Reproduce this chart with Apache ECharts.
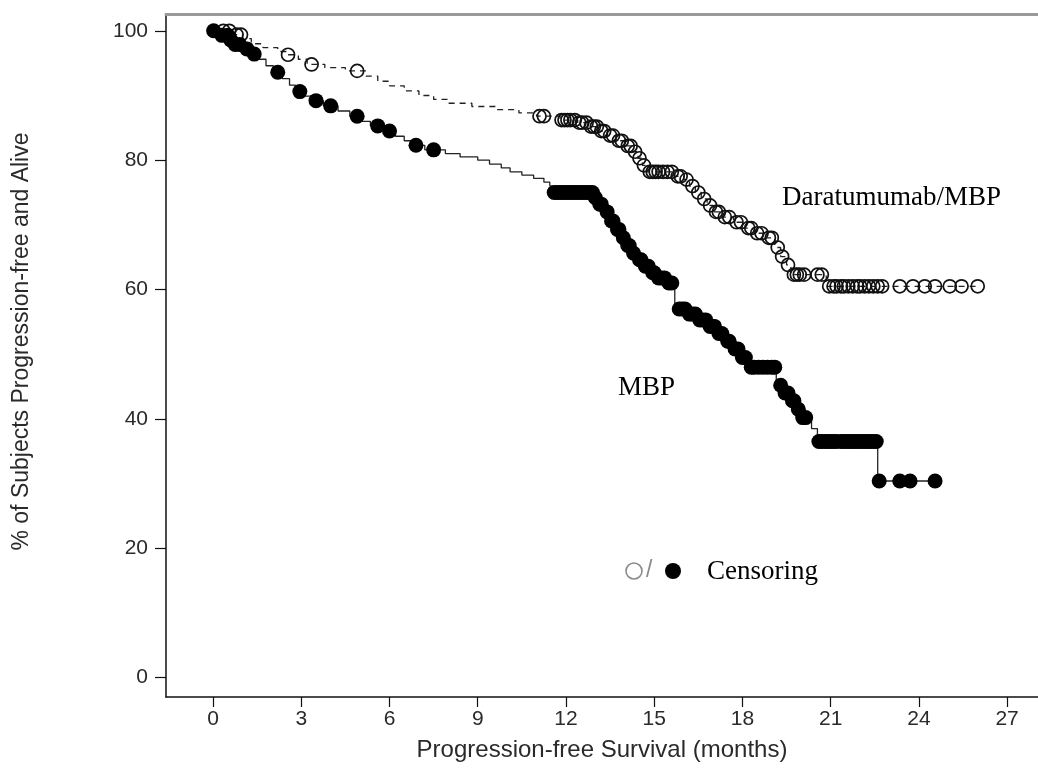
<!DOCTYPE html>
<html>
<head>
<meta charset="utf-8">
<script src="https://cdn.jsdelivr.net/npm/echarts@6/dist/echarts.min.js"></script>
<style>html,body{margin:0;padding:0;background:#fff}#chart{width:1038px;height:783px}</style>
</head>
<body>
<div id="chart"></div>
<script>
// ---- Data ----
const xTicks = [0, 3, 6, 9, 12, 15, 18, 21, 24, 27];
const yTicks = [0, 20, 40, 60, 80, 100];

// MBP arm: step times (months) and survival (%) after each step
const mbpTimes = [0, 0.3, 0.55, 0.75, 1.0, 1.25, 1.5, 1.8, 2.05, 2.35, 2.6, 2.8, 3.05, 3.35, 3.75, 4.25, 4.65, 5.05, 5.35, 5.8, 6.2, 6.5, 6.8, 7.2, 7.9, 8.4, 9.0, 9.4, 9.8, 10.1, 10.5, 10.9, 11.25, 11.45, 11.55, 12.95, 13.1, 13.3, 13.5, 13.65, 13.85, 14.0, 14.2, 14.4, 14.6, 14.85, 15.1, 15.4, 15.7, 16.1, 16.45, 16.8, 17.1, 17.4, 17.65, 17.9, 18.2, 19.15, 19.4, 19.6, 19.8, 20.0, 20.35, 20.55, 22.6, 24.55];
const mbpSurv  = [100, 99.3, 98.6, 97.9, 97.2, 96.4, 95.6, 94.6, 93.6, 92.6, 91.6, 90.6, 89.9, 89.2, 88.4, 87.6, 86.8, 86.0, 85.3, 84.5, 83.7, 83.0, 82.3, 81.6, 81.0, 80.5, 80.0, 79.4, 78.8, 78.2, 77.7, 77.2, 76.6, 76.0, 75.0, 74.2, 73.2, 72.0, 70.6, 69.3, 68.0, 66.8, 65.6, 64.6, 63.6, 62.6, 61.8, 61.0, 57.0, 56.2, 55.3, 54.3, 53.2, 52.0, 50.8, 49.5, 48.0, 45.2, 44.0, 42.8, 41.5, 40.2, 38.5, 36.5, 30.4, 30.4];
const mbpCensor = [0.02, 0.3, 0.5, 0.6, 0.75, 0.9, 1.15, 1.4, 2.2, 2.95, 3.5, 4.0, 4.9, 5.6, 6.0, 6.9, 7.5,
  11.6, 11.7, 11.8, 11.9, 12.0, 12.1, 12.2, 12.3, 12.4, 12.5, 12.6, 12.7, 12.8, 12.9,
  13.0, 13.15, 13.2, 13.4, 13.55, 13.6, 13.75, 13.8, 13.95, 14.1, 14.15, 14.3, 14.5, 14.55, 14.7, 14.8, 14.95, 15.0, 15.15, 15.25, 15.35, 15.5, 15.6,
  15.85, 15.95, 16.05, 16.2, 16.3, 16.4, 16.55, 16.65, 16.75, 16.9, 17.0, 17.05, 17.2, 17.3, 17.5, 17.55, 17.75, 17.85, 18.0, 18.1, 18.3, 18.4, 18.55, 18.7, 18.85, 19.0, 19.1,
  19.3, 19.45, 19.55, 19.7, 19.75, 19.9, 20.05, 20.15,
  20.6, 20.7, 20.8, 20.9, 21.0, 21.1, 21.2, 21.35, 21.45, 21.55, 21.65, 21.75, 21.85, 21.95, 22.05, 22.15, 22.25, 22.35, 22.45, 22.55,
  22.65, 23.35, 23.7, 24.55];

// Daratumumab/MBP arm
const daraTimes = [0, 0.7, 1.0, 1.3, 1.7, 2.2, 2.5, 2.9, 3.2, 3.8, 4.5, 5.2, 5.6, 6.0, 6.5, 7.0, 7.5, 8.0, 8.8, 9.6, 10.4, 11.0, 11.8, 12.4, 12.8, 13.1, 13.4, 13.7, 14.0, 14.25, 14.45, 14.6, 14.75, 15.7, 16.0, 16.2, 16.4, 16.6, 16.8, 17.0, 17.3, 17.7, 18.1, 18.4, 18.8, 19.1, 19.3, 19.5, 19.65, 20.85, 26.0];
const daraSurv  = [100, 99.4, 98.8, 98.0, 97.4, 96.8, 96.3, 95.6, 94.8, 94.3, 93.8, 93.0, 92.2, 91.5, 90.7, 90.0, 89.4, 88.8, 88.3, 87.8, 87.3, 86.8, 86.2, 85.8, 85.2, 84.5, 83.8, 83.0, 82.2, 81.3, 80.3, 79.2, 78.2, 77.5, 77.0, 76.0, 75.0, 74.0, 73.0, 72.0, 71.2, 70.4, 69.5, 68.7, 68.0, 66.5, 65.1, 63.8, 62.3, 60.5, 60.5];
const daraCensor = [0.35, 0.55, 0.8, 0.95, 2.55, 3.35, 4.9, 11.1, 11.25,
  11.85, 11.95, 12.05, 12.15, 12.3, 12.45, 12.55, 12.7, 12.85, 12.95, 13.05, 13.2, 13.3, 13.5, 13.6, 13.8, 13.9, 14.1, 14.2, 14.35, 14.5, 14.65, 14.85, 14.95, 15.05, 15.15, 15.3, 15.45, 15.6,
  15.8, 15.9, 16.1, 16.3, 16.5, 16.7, 16.9, 17.1, 17.2, 17.4, 17.55, 17.8, 17.95, 18.2, 18.3, 18.5, 18.65, 18.9, 19.0, 19.2, 19.35, 19.55,
  19.75, 19.85, 19.95, 20.1, 20.55, 20.7,
  20.95, 21.1, 21.2, 21.35, 21.45, 21.6, 21.75, 21.9, 22.0, 22.15, 22.3, 22.45, 22.6, 22.75,
  23.35, 23.8, 24.2, 24.55, 25.05, 25.45, 26.0];

// ---- helpers ----
function stepPairs(times, surv) { return times.map((t, i) => [t, surv[i]]); }
function survAt(times, surv, t) {
  let v = surv[0];
  for (let i = 0; i < times.length; i++) { if (times[i] <= t + 1e-9) v = surv[i]; else break; }
  return v;
}
function censorPairs(cens, times, surv) { return cens.map(t => [t, survAt(times, surv, t)]); }

const chart = echarts.init(document.getElementById('chart'), null, {renderer: 'canvas'});
const sans = 'Liberation Sans, Arial, sans-serif';
const serif = 'Liberation Serif, Times New Roman, serif';

chart.setOption({
  backgroundColor: '#fff',
  animation: false,
  grid: {left: 166, top: 14, right: 0, bottom: 86, containLabel: false, outerBoundsMode: 'none'},
  xAxis: [{
    type: 'value', min: -1.6, max: 28.05,
    name: 'Progression-free Survival (months)', nameLocation: 'middle', nameGap: 41,
    nameTextStyle: {fontFamily: sans, fontSize: 24, color: '#2a2a2a'},
    axisLine: {show: true, onZero: false, lineStyle: {color: '#111', width: 1.5}},
    axisTick: {show: true, customValues: xTicks, length: 10, lineStyle: {color: '#111', width: 1.2}},
    axisLabel: {customValues: xTicks, fontFamily: sans, fontSize: 21, color: '#2a2a2a', margin: 12},
    splitLine: {show: false}
  }, {
    type: 'value', position: 'top', min: -1.6, max: 28.05,
    axisLine: {show: true, onZero: false, lineStyle: {color: '#9a9a9a', width: 3}},
    axisTick: {show: false}, axisLabel: {show: false}, splitLine: {show: false}
  }],
  yAxis: {
    type: 'value', min: -3, max: 102.6,
    name: '% of Subjects Progression-free and Alive', nameLocation: 'middle', nameGap: 133,
    nameTextStyle: {fontFamily: sans, fontSize: 23, color: '#2a2a2a', padding: [0, 0, 0, 28]},
    axisLine: {show: true, onZero: false, lineStyle: {color: '#111', width: 1.5}},
    axisTick: {show: true, customValues: yTicks, length: 11, lineStyle: {color: '#111', width: 1.2}},
    axisLabel: {customValues: yTicks, fontFamily: sans, fontSize: 21, color: '#2a2a2a', margin: 18},
    splitLine: {show: false}
  },
  series: [
    {type: 'line', name: 'Daratumumab/MBP', step: 'end', showSymbol: false, data: stepPairs(daraTimes, daraSurv),
     lineStyle: {color: '#222', width: 1.3, type: [6, 5]}, z: 2},
    {type: 'line', name: 'MBP', step: 'end', showSymbol: false, data: stepPairs(mbpTimes, mbpSurv),
     lineStyle: {color: '#222', width: 1.3}, z: 2},
    {type: 'scatter', name: 'Dara censor', symbol: 'circle', symbolSize: 13, data: censorPairs(daraCensor, daraTimes, daraSurv),
     itemStyle: {color: 'rgba(255,255,255,0)', borderColor: '#111', borderWidth: 1.7, opacity: 1}, z: 3},
    {type: 'scatter', name: 'MBP censor', symbol: 'circle', symbolSize: 15, data: censorPairs(mbpCensor, mbpTimes, mbpSurv),
     itemStyle: {color: '#000', opacity: 1}, z: 3}
  ],
  graphic: [
    {type: 'text', left: 782, top: 184, style: {text: 'Daratumumab/MBP', font: '27px ' + serif, fill: '#000'}},
    {type: 'text', left: 618, top: 374, style: {text: 'MBP', font: '27px ' + serif, fill: '#000'}},
    {type: 'circle', shape: {cx: 634, cy: 571, r: 8}, style: {fill: '#fff', stroke: '#8a8a8a', lineWidth: 1.6}},
    {type: 'text', left: 646, top: 559, style: {text: '/', font: '23px ' + sans, fill: '#8a8a8a'}},
    {type: 'circle', shape: {cx: 673, cy: 571, r: 8}, style: {fill: '#000'}},
    {type: 'text', left: 707, top: 558, style: {text: 'Censoring', font: '27px ' + serif, fill: '#000'}}
  ]
});
</script>
</body>
</html>
